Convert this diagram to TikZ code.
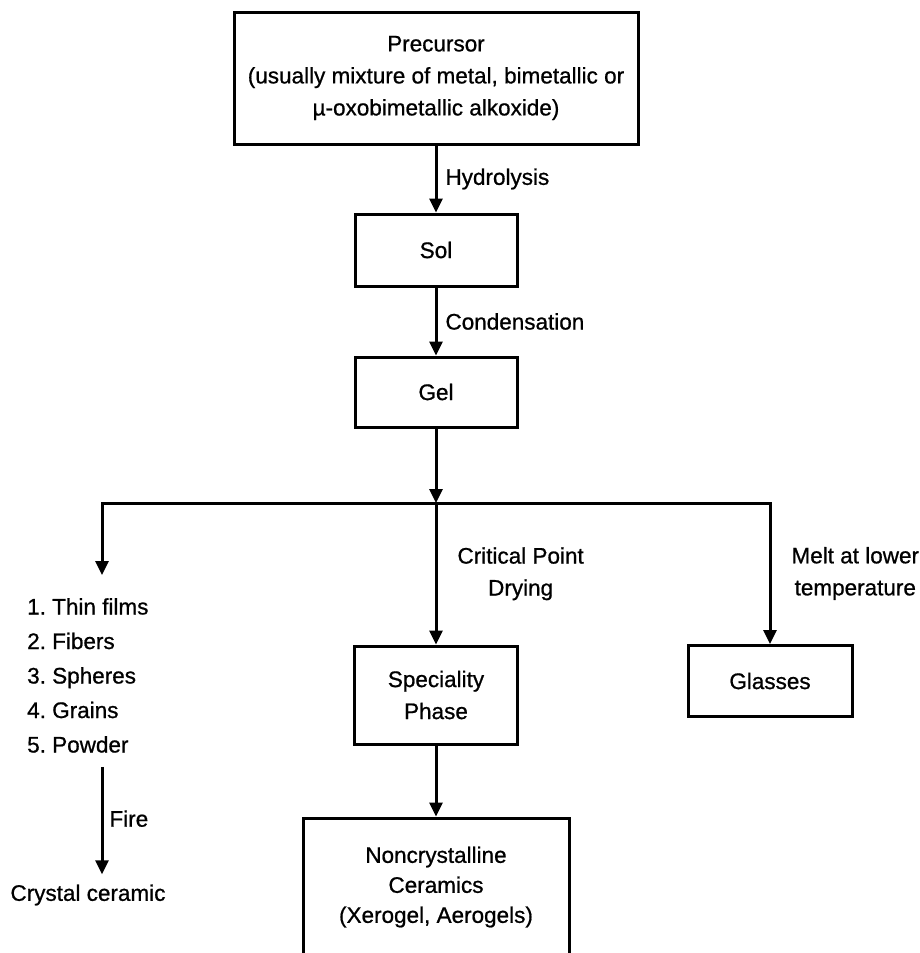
\documentclass[tikz,border=0pt]{standalone}
\usepackage{fontspec}
\setmainfont{Liberation Sans}[FakeBold=0.8]
\usetikzlibrary{arrows.meta,positioning}
\frenchspacing

\begin{document}
\begin{tikzpicture}[x=1pt,y=-1pt,
    font=\fontsize{22.5}{32}\selectfont,
    box/.style={draw,line width=3pt,align=center,inner sep=0pt},
    lbl/.style={align=center,inner sep=0pt},
    arr/.style={line width=3pt,-{Triangle[width=13pt,length=14pt]}}]
  \clip (0,0) rectangle (919,953);
  \fill[white] (0,0) rectangle (919,953);
  \node[box,minimum width=404pt,minimum height=132pt] (prec) at (436,78)
    {Precursor\\(usually mixture of metal, bimetallic or\\µ-oxobimetallic alkoxide)};
  \node[box,minimum width=162pt,minimum height=72pt] (sol) at (436,250) {Sol};
  \node[box,minimum width=162pt,minimum height=70pt] (gel) at (436,392) {Gel};
  \node[box,minimum width=163pt,minimum height=98pt] (spec) at (436,695) {Speciality\\Phase};
  \node[box,minimum width=164pt,minimum height=71pt] (glass) at (770,681) {Glasses};
  \node[box,minimum width=266pt,minimum height=138pt] (ncer) at (436,887)
    {Noncrystalline\\[-2pt]Ceramics\\[-2pt](Xerogel, Aerogels)};
  \node[lbl,align=left,anchor=north west] (list) at (27,598)
    {1. Thin films\\[2.5pt]2. Fibers\\[2.5pt]3. Spheres\\[2.5pt]4. Grains\\[2.5pt]5. Powder};
  \node[lbl] (crys) at (88,895) {Crystal ceramic};
  \coordinate (split) at (436,503);
  \coordinate (lend) at (102,575);
  \draw[arr] (prec) -- node[lbl,right=8pt]{Hydrolysis} (sol);
  \draw[arr] (sol) -- node[lbl,right=8pt]{Condensation} (gel);
  \draw[arr] (gel) -- (split);
  \draw[arr] (split) -| (lend);
  \draw[arr] (split) -- node[lbl,right=20pt]{Critical Point\\Drying} (spec);
  \draw[arr] (split) -| node[lbl,right=20pt,pos=.75]{Melt at lower\\temperature} (glass.north);
  \draw[arr] (spec) -- (ncer);
  \draw[arr,shorten <=14pt,shorten >=10pt] (list.south -| lend) -- node[lbl,right=6pt]{Fire} (crys.north -| lend);
\end{tikzpicture}
\end{document}
